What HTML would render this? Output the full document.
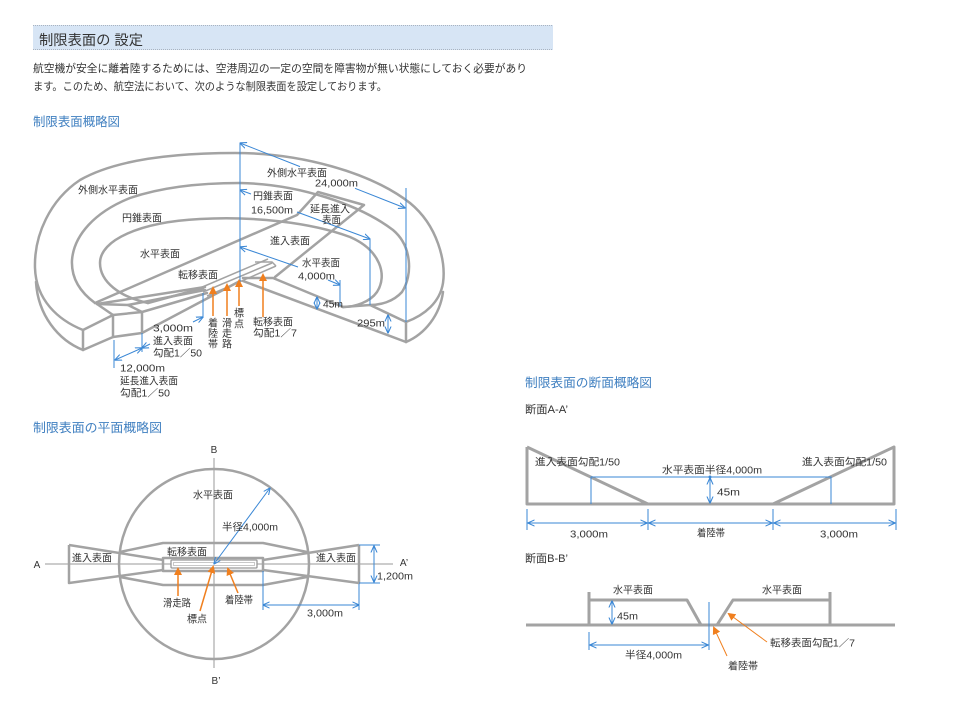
<!DOCTYPE html>
<html><head><meta charset="utf-8">
<style>
html,body{margin:0;padding:0;background:#fff}
svg{display:block}
text{font-family:"Liberation Sans","Noto Sans CJK JP",sans-serif;fill:#333}
</style></head>
<body>
<svg width="962" height="721" viewBox="0 0 962 721" xmlns="http://www.w3.org/2000/svg">
<defs>
<marker id="ab" viewBox="0 0 8 8" refX="7.5" refY="4" markerWidth="7" markerHeight="7" markerUnits="userSpaceOnUse" orient="auto-start-reverse"><path d="M0,0.5 L8,4 L0,7.5" fill="none" stroke="#3a87d5" stroke-width="1.2"/></marker>
<marker id="ao" viewBox="0 0 8 8" refX="6" refY="4" markerWidth="8" markerHeight="8" markerUnits="userSpaceOnUse" orient="auto"><path d="M0,0 L8,4 L0,8 z" fill="#f07f1e"/></marker>
</defs>
<rect width="962" height="721" fill="#fff"/>

<!-- Header -->
<rect x="33" y="25" width="520" height="25" fill="#d7e5f5"/>
<line x1="33" y1="25.5" x2="553" y2="25.5" stroke="#a9b3c0" stroke-dasharray="1,1"/>
<line x1="33" y1="49.5" x2="553" y2="49.5" stroke="#a9b3c0" stroke-dasharray="1,1"/>
<text x="39" y="45" font-size="14" textLength="104" lengthAdjust="spacingAndGlyphs">制限表面の 設定</text>
<text x="33" y="72" font-size="11" fill="#444" textLength="494" lengthAdjust="spacingAndGlyphs">航空機が安全に離着陸するためには、空港周辺の一定の空間を障害物が無い状態にしておく必要があり</text>
<text x="33" y="90" font-size="11" fill="#444" textLength="354" lengthAdjust="spacingAndGlyphs">ます。このため、航空法において、次のような制限表面を設定しております。</text>
<text x="33" y="126" font-size="12.5" style="fill:#3f7fc0" textLength="87" lengthAdjust="spacingAndGlyphs">制限表面概略図</text>

<!-- 3D diagram grey -->
<g fill="none" stroke="#a3a3a3" stroke-width="2.5" stroke-linejoin="round" stroke-linecap="round">
<path d="M83,330 C58,320 36,300 35,268 C34,235 50,200 80,180 C115,160 170,153 235,153 C300,153 370,172 410,203 C438,226 446,262 443,283 C440,302 425,315 406,322"/>
<path d="M36,282 C38,315 58,340 83,350"/>
<path d="M406,342 C425,334 440,315 443,292"/>
<path d="M83,330 L113,315 L113,337 L83,350 Z"/>
<path d="M113,315 L142,312 L142,333 L113,337"/>
<path d="M97,304 L113,315"/>
<path d="M97,304 L128,305 L142,312"/>
<path d="M142,333 L240,281"/>
<path d="M243,281 L406,342"/>
<path d="M343,307 L370,305 L406,322 L406,342"/>
<path d="M243,278 L273,278 L343,307"/>
<path d="M95,303 C80,292 71,278 72,260 C74,235 95,212 130,198 C165,186 205,183 240,183 C300,184 360,205 393,230 C412,246 413,275 402,292 C393,302 380,305 370,305"/>
<path d="M148,303 C120,297 100,282 100,263 C100,240 140,222 200,219 C250,216 310,222 350,237 C380,250 388,275 377,292 C370,302 355,307 343,307"/>
<path d="M148,303 L203,288"/>
<path d="M95,303 L297,215 L318,192 L364,205 L275,277"/>
<path d="M97,304 L205,287"/>
<path d="M142,312 L207,293"/>
<path d="M128,305 L205,290"/>
</g>
<g fill="none" stroke="#a3a3a3" stroke-width="1.5">
<path d="M200,288 L268,259"/>
<path d="M203,292 L272,263"/>
<path d="M207,296 L276,266"/>
<path d="M255,262 L272,262 L276,266"/>
</g>

<!-- 3D blue -->
<g fill="none" stroke="#3a87d5" stroke-width="1">
<line x1="240" y1="143" x2="240" y2="282"/>
<line x1="240" y1="143" x2="300" y2="166.6" marker-start="url(#ab)"/>
<line x1="355" y1="188.3" x2="405" y2="208" marker-end="url(#ab)"/>
<line x1="406" y1="188" x2="406" y2="322"/>
<line x1="240" y1="190" x2="251" y2="194" marker-start="url(#ab)"/>
<line x1="297" y1="212" x2="370" y2="239" marker-end="url(#ab)"/>
<line x1="370" y1="239" x2="370" y2="305"/>
<line x1="240" y1="247" x2="298" y2="267" marker-start="url(#ab)"/>
<line x1="328" y1="280" x2="340" y2="285" marker-end="url(#ab)"/>
<line x1="340" y1="280" x2="340" y2="306"/>
<line x1="317" y1="297" x2="317" y2="309" marker-start="url(#ab)" marker-end="url(#ab)"/>
<line x1="388" y1="315" x2="388" y2="333" marker-start="url(#ab)" marker-end="url(#ab)"/>
<line x1="203" y1="293" x2="203" y2="318"/>
<line x1="142" y1="333" x2="142" y2="352"/>
<line x1="114" y1="340" x2="114" y2="368"/>
<line x1="142" y1="348" x2="150" y2="344" marker-start="url(#ab)"/>
<line x1="193" y1="322" x2="203" y2="317" marker-end="url(#ab)"/>
<line x1="115" y1="360" x2="142" y2="348" marker-start="url(#ab)" marker-end="url(#ab)"/>
</g>

<!-- 3D orange -->
<g stroke="#f07f1e" stroke-width="1.5" fill="none">
<line x1="213" y1="316" x2="213" y2="288" marker-end="url(#ao)"/>
<line x1="227" y1="316" x2="227" y2="285" marker-end="url(#ao)"/>
<line x1="239" y1="306" x2="239" y2="281" marker-end="url(#ao)"/>
<line x1="263" y1="317" x2="263" y2="275" marker-end="url(#ao)"/>
</g>

<!-- 3D labels -->
<g font-size="10">
<text x="78" y="193.6" textLength="60" lengthAdjust="spacingAndGlyphs">外側水平表面</text>
<text x="122" y="221.6" textLength="40" lengthAdjust="spacingAndGlyphs">円錐表面</text>
<text x="140" y="257.6" textLength="40" lengthAdjust="spacingAndGlyphs">水平表面</text>
<text x="178" y="278.6" textLength="40" lengthAdjust="spacingAndGlyphs">転移表面</text>
<text x="267" y="176.6" textLength="60" lengthAdjust="spacingAndGlyphs">外側水平表面</text>
<text x="315" y="186.6" textLength="43" lengthAdjust="spacingAndGlyphs">24,000m</text>
<text x="253" y="199.6" textLength="40" lengthAdjust="spacingAndGlyphs">円錐表面</text>
<text x="251" y="213.6" textLength="42" lengthAdjust="spacingAndGlyphs">16,500m</text>
<text x="310" y="212.6" textLength="40" lengthAdjust="spacingAndGlyphs">延長進入</text>
<text x="322" y="223.6" textLength="19" lengthAdjust="spacingAndGlyphs">表面</text>
<text x="270" y="244.6" textLength="40" lengthAdjust="spacingAndGlyphs">進入表面</text>
<text x="302" y="266.6" textLength="38" lengthAdjust="spacingAndGlyphs">水平表面</text>
<text x="298" y="279.6" textLength="37" lengthAdjust="spacingAndGlyphs">4,000m</text>
<text x="323" y="307.6" textLength="20" lengthAdjust="spacingAndGlyphs">45m</text>
<text x="357" y="326.6" textLength="28" lengthAdjust="spacingAndGlyphs">295m</text>
<text x="153" y="331.6" textLength="40" lengthAdjust="spacingAndGlyphs">3,000m</text>
<text x="153" y="344.6" textLength="40" lengthAdjust="spacingAndGlyphs">進入表面</text>
<text x="153" y="356.6" textLength="49" lengthAdjust="spacingAndGlyphs">勾配1／50</text>
<text x="120" y="371.6" textLength="45" lengthAdjust="spacingAndGlyphs">12,000m</text>
<text x="120" y="384.6" textLength="58" lengthAdjust="spacingAndGlyphs">延長進入表面</text>
<text x="120" y="396.6" textLength="50" lengthAdjust="spacingAndGlyphs">勾配1／50</text>
<text x="253" y="325.6" textLength="40" lengthAdjust="spacingAndGlyphs">転移表面</text>
<text x="253" y="336.6" textLength="44" lengthAdjust="spacingAndGlyphs">勾配1／7</text>
<g text-anchor="middle">
<text x="213" y="326.6">着</text><text x="213" y="337">陸</text><text x="213" y="347.6">帯</text>
<text x="227" y="326.6">滑</text><text x="227" y="337">走</text><text x="227" y="347.6">路</text>
<text x="239" y="316.6">標</text><text x="239" y="327.6">点</text>
</g>
</g>

<!-- Plan view -->
<text x="33" y="432" font-size="12.5" style="fill:#3f7fc0" textLength="129" lengthAdjust="spacingAndGlyphs">制限表面の平面概略図</text>
<g stroke="#999" stroke-width="1">
<line x1="214" y1="458" x2="214" y2="668"/>
<line x1="45" y1="564" x2="393" y2="564"/>
</g>
<g fill="none" stroke="#a3a3a3" stroke-width="2.5" stroke-linejoin="round">
<circle cx="214" cy="564" r="95"/>
<path d="M69,545 L69,583 L163,570 M69,545 L163,560"/>
<path d="M359,545 L359,583 L263,570 M359,545 L263,560"/>
<path d="M120,552 L163,543 L263,543 L307,552"/>
<path d="M120,577 L163,585 L263,585 L307,577"/>
<rect x="163" y="558" width="100" height="13"/>
</g>
<rect x="171" y="560" width="86" height="8" rx="1" fill="#fff" stroke="#999" stroke-width="1.3"/>
<rect x="173.5" y="562.5" width="81" height="3" fill="none" stroke="#bbb" stroke-width="0.8"/>
<g fill="none" stroke="#3a87d5" stroke-width="1">
<line x1="214" y1="564" x2="270" y2="488" marker-start="url(#ab)" marker-end="url(#ab)"/>
<line x1="359" y1="545" x2="380" y2="545"/>
<line x1="359" y1="583" x2="380" y2="583"/>
<line x1="374" y1="546" x2="374" y2="582" marker-start="url(#ab)" marker-end="url(#ab)"/>
<line x1="263" y1="571" x2="263" y2="610"/>
<line x1="359" y1="584" x2="359" y2="610"/>
<line x1="263" y1="605" x2="359" y2="605" marker-start="url(#ab)" marker-end="url(#ab)"/>
</g>
<g stroke="#f07f1e" stroke-width="1.5" fill="none">
<line x1="178" y1="596" x2="178" y2="569" marker-end="url(#ao)"/>
<line x1="200" y1="611" x2="213" y2="567" marker-end="url(#ao)"/>
<line x1="238" y1="593" x2="228" y2="569" marker-end="url(#ao)"/>
</g>
<g font-size="10">
<text x="214" y="453" text-anchor="middle">B</text>
<text x="216" y="684" text-anchor="middle">B’</text>
<text x="37" y="568" text-anchor="middle">A</text>
<text x="404" y="566" text-anchor="middle">A’</text>
<text x="193" y="498.6" textLength="40" lengthAdjust="spacingAndGlyphs">水平表面</text>
<text x="222" y="530.6" textLength="56" lengthAdjust="spacingAndGlyphs">半径4,000m</text>
<text x="167" y="555.6" textLength="40" lengthAdjust="spacingAndGlyphs">転移表面</text>
<text x="72" y="561.6" textLength="40" lengthAdjust="spacingAndGlyphs">進入表面</text>
<text x="316" y="561.6" textLength="40" lengthAdjust="spacingAndGlyphs">進入表面</text>
<text x="163" y="606.6" textLength="28" lengthAdjust="spacingAndGlyphs">滑走路</text>
<text x="187" y="622.6" textLength="20" lengthAdjust="spacingAndGlyphs">標点</text>
<text x="225" y="603.6" textLength="28" lengthAdjust="spacingAndGlyphs">着陸帯</text>
<text x="307" y="616.6" textLength="36" lengthAdjust="spacingAndGlyphs">3,000m</text>
<text x="377" y="579.6" textLength="36" lengthAdjust="spacingAndGlyphs">1,200m</text>
</g>

<!-- Section diagrams -->
<text x="525" y="387" font-size="12.5" style="fill:#3f7fc0" textLength="127" lengthAdjust="spacingAndGlyphs">制限表面の断面概略図</text>
<text x="525" y="413" font-size="11" textLength="43" lengthAdjust="spacingAndGlyphs">断面A-A’</text>
<g fill="none" stroke="#a3a3a3" stroke-width="3" stroke-linejoin="round">
<path d="M527,447 L527,504 L894,504 L894,447 L773,504"/>
<path d="M527,447 L648,504"/>
</g>
<g fill="none" stroke="#3a87d5" stroke-width="1">
<path d="M591,504 L591,477 L831,477 L831,504"/>
<line x1="710" y1="478" x2="710" y2="503" marker-start="url(#ab)" marker-end="url(#ab)"/>
<line x1="527" y1="509" x2="527" y2="530"/>
<line x1="648" y1="509" x2="648" y2="530"/>
<line x1="773" y1="509" x2="773" y2="530"/>
<line x1="896" y1="509" x2="896" y2="530"/>
<line x1="528" y1="523" x2="647" y2="523" marker-start="url(#ab)" marker-end="url(#ab)"/>
<line x1="649" y1="523" x2="772" y2="523" marker-start="url(#ab)" marker-end="url(#ab)"/>
<line x1="774" y1="523" x2="895" y2="523" marker-start="url(#ab)" marker-end="url(#ab)"/>
</g>
<circle cx="710" cy="477" r="1.5" fill="#3a87d5"/>
<g font-size="10">
<text x="535" y="465.6" textLength="85" lengthAdjust="spacingAndGlyphs">進入表面勾配1/50</text>
<text x="802" y="465.6" textLength="85" lengthAdjust="spacingAndGlyphs">進入表面勾配1/50</text>
<text x="662" y="473.6" textLength="100" lengthAdjust="spacingAndGlyphs">水平表面半径4,000m</text>
<text x="717" y="495.6" textLength="23" lengthAdjust="spacingAndGlyphs">45m</text>
<text x="570" y="537.6" textLength="38" lengthAdjust="spacingAndGlyphs">3,000m</text>
<text x="697" y="536.6" textLength="28" lengthAdjust="spacingAndGlyphs">着陸帯</text>
<text x="820" y="537.6" textLength="38" lengthAdjust="spacingAndGlyphs">3,000m</text>
</g>

<text x="525" y="562" font-size="11" textLength="43" lengthAdjust="spacingAndGlyphs">断面B-B’</text>
<g fill="none" stroke="#a3a3a3" stroke-width="3" stroke-linejoin="round">
<line x1="526" y1="625" x2="895" y2="625"/>
<path d="M589,592 L589,625 M589,600 L687,600 L701,625"/>
<path d="M717,625 L733,600 L830,600 M830,592 L830,625"/>
</g>
<g fill="none" stroke="#3a87d5" stroke-width="1">
<line x1="709" y1="602" x2="709" y2="650"/>
<line x1="589" y1="632" x2="589" y2="650"/>
<line x1="590" y1="645" x2="708" y2="645" marker-start="url(#ab)" marker-end="url(#ab)"/>
<line x1="612" y1="601" x2="612" y2="624" marker-start="url(#ab)" marker-end="url(#ab)"/>
</g>
<g stroke="#f07f1e" stroke-width="1" fill="none">
<line x1="767" y1="642" x2="729" y2="614" marker-end="url(#ao)"/>
<line x1="727" y1="656" x2="714" y2="628" marker-end="url(#ao)"/>
</g>
<g font-size="10">
<text x="613" y="593.6" textLength="40" lengthAdjust="spacingAndGlyphs">水平表面</text>
<text x="762" y="593.6" textLength="40" lengthAdjust="spacingAndGlyphs">水平表面</text>
<text x="617" y="619.6" textLength="21" lengthAdjust="spacingAndGlyphs">45m</text>
<text x="625" y="658.6" textLength="57" lengthAdjust="spacingAndGlyphs">半径4,000m</text>
<text x="770" y="646.6" textLength="85" lengthAdjust="spacingAndGlyphs">転移表面勾配1／7</text>
<text x="728" y="669.6" textLength="30" lengthAdjust="spacingAndGlyphs">着陸帯</text>
</g>
</svg>
</body></html>
